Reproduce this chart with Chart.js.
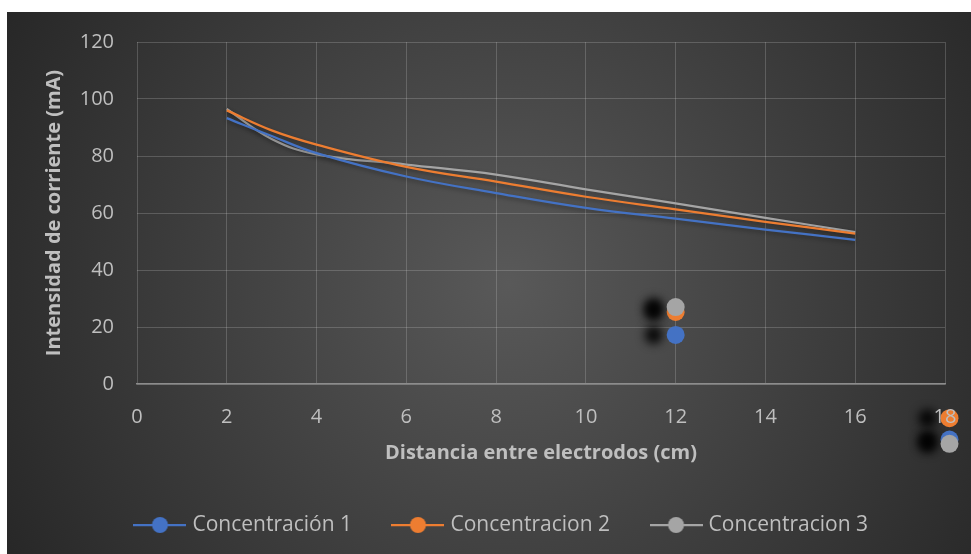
<!DOCTYPE html>
<html lang="es">
<head>
<meta charset="UTF-8">
<title>Intensidad de corriente vs distancia</title>
<script src="https://cdn.jsdelivr.net/npm/chart.js"></script>
<style>
    body { margin: 0; background: #ffffff; }
    .grafico { position: absolute; left: 7px; top: 12px; }
</style>
</head>
<body>
<canvas id="grafico" class="grafico" width="964" height="542"></canvas>

<script>
// Datos
const distancias = [2, 3, 4, 6, 8, 10, 12, 14, 16];
const conc1 = [93.3, 87, 81, 72.8, 67, 61.8, 58, 54.2, 50.6];
const conc2 = [96, 89, 84, 76.2, 71, 65.7, 61.3, 56.9, 52.8];
const conc3 = [96.5, 86, 80.6, 77, 73.5, 68.3, 63.4, 58.3, 53.3];

// puntos sueltos (marcadores)
const marcasX = [12, 18.1];
const marcas1 = [17.2, -19.5];
const marcas2 = [25.3, -12];
const marcas3 = [27, -21];

const nombres = ['Concentración 1', 'Concentracion 2', 'Concentracion 3'];
const colores = ['#4472c4', '#ed7d31', '#a5a5a5'];

const ticksX = [0, 2, 4, 6, 8, 10, 12, 14, 16, 18];
const ticksY = [0, 20, 40, 60, 80, 100, 120];

const texto = '#bfbfbf';
const rejilla = 'rgba(217,217,217,0.22)';

function puntos(xs, ys) {
    return xs.map((x, i) => ({ x: x, y: ys[i] }));
}

// icono de leyenda: linea con circulo
function icono(color) {
    const c = document.createElement('canvas');
    c.width = 53;
    c.height = 18;
    const g = c.getContext('2d');
    g.strokeStyle = color;
    g.lineWidth = 2.25;
    g.beginPath();
    g.moveTo(0, 9);
    g.lineTo(53, 9);
    g.stroke();
    g.fillStyle = color;
    g.beginPath();
    g.arc(26.5, 9, 8, 0, Math.PI * 2);
    g.fill();
    return c;
}
const iconos = colores.map(icono);

function serieMarcas(ys, i) {
    return {
        label: nombres[i] + ' (punto)',
        data: puntos(marcasX, ys),
        showLine: false,
        pointRadius: 9,
        pointHoverRadius: 9,
        pointBackgroundColor: colores[i],
        pointBorderWidth: 0,
        clip: false,
        marca: true
    };
}

function serieLinea(ys, i) {
    return {
        label: nombres[i],
        data: puntos(distancias, ys),
        showLine: true,
        borderColor: colores[i],
        borderWidth: 2.25,
        tension: 0.4,
        pointRadius: 0,
        marca: false
    };
}

// fondo degradado
const fondo = {
    id: 'fondo',
    beforeDraw(chart) {
        const ctx = chart.ctx;
        const w = chart.width, h = chart.height;
        const grad = ctx.createRadialGradient(w * 0.52, h * 0.5, 0, w * 0.52, h * 0.5, w * 0.62);
        grad.addColorStop(0, '#595959');
        grad.addColorStop(1, '#252525');
        ctx.save();
        ctx.fillStyle = grad;
        ctx.fillRect(0, 0, w, h);
        ctx.restore();
    }
};

// sombras de lineas y marcadores; los marcadores se dibujan tambien fuera del area
const sombras = {
    id: 'sombras',
    beforeDatasetDraw(chart, args) {
        const ds = chart.data.datasets[args.index];
        const ctx = chart.ctx;
        ctx.save();
        if (ds.marca) {
            chart._areaReal = chart.chartArea;
            chart.chartArea = { left: 0, top: 0, right: chart.width, bottom: chart.height, width: chart.width, height: chart.height };
            ctx.shadowColor = 'rgba(0,0,0,0.9)';
            ctx.shadowBlur = 10;
            ctx.shadowOffsetX = -22;
        } else {
            ctx.shadowColor = 'rgba(0,0,0,0.35)';
            ctx.shadowBlur = 4;
            ctx.shadowOffsetY = 2;
        }
    },
    afterDatasetDraw(chart) {
        if (chart._areaReal) {
            chart.chartArea = chart._areaReal;
            chart._areaReal = null;
        }
        chart.ctx.restore();
    }
};

// colocar la leyenda como en el original
const leyendaPos = {
    id: 'leyendaPos',
    afterLayout(chart) {
        const lg = chart.legend;
        lg.left += 27;
        lg.right += 27;
        lg.top -= 8.5;
        lg.bottom -= 8.5;
    }
};

new Chart(document.getElementById('grafico'), {
    type: 'scatter',
    data: {
        datasets: [
            serieMarcas(marcas3, 2),
            serieMarcas(marcas2, 1),
            serieMarcas(marcas1, 0),
            serieLinea(conc1, 0),
            serieLinea(conc2, 1),
            serieLinea(conc3, 2)
        ]
    },
    options: {
        responsive: false,
        animation: false,
        layout: { padding: { left: 0, right: 26, top: 30, bottom: 0 } },
        plugins: {
            tooltip: { enabled: false },
            legend: {
                position: 'bottom',
                labels: {
                    usePointStyle: true,
                    pointStyleWidth: 44,
                    padding: 44,
                    color: texto,
                    font: { family: 'Open Sans', size: 21 },
                    generateLabels: chart => nombres.map((n, i) => ({
                        text: n,
                        pointStyle: iconos[i],
                        fontColor: texto,
                        fillStyle: 'transparent',
                        strokeStyle: 'transparent',
                        lineWidth: 0,
                        hidden: false,
                        datasetIndex: i + 3
                    }))
                },
                onClick: () => {}
            }
        },
        scales: {
            x: {
                type: 'linear',
                min: 0,
                max: 18,
                afterBuildTicks: axis => { axis.ticks = ticksX.map(v => ({ value: v })); },
                afterFit: axis => {
                    axis.height = 95;
                    axis.paddingLeft = 0;
                    axis.paddingRight = 0;
                },
                grid: { color: rejilla, drawTicks: false },
                border: { color: '#8c8c8c', width: 1.5 },
                ticks: { color: texto, padding: 21, z: 1, font: { family: 'Open Sans', size: 20 } },
                title: {
                    display: true,
                    text: 'Distancia entre electrodos (cm)',
                    color: texto,
                    font: { family: 'Open Sans', size: 20, weight: 'bold' },
                    padding: { top: 4, bottom: 14 }
                }
            },
            y: {
                min: 0,
                max: 120,
                afterBuildTicks: axis => { axis.ticks = ticksY.map(v => ({ value: v })); },
                afterFit: axis => {
                    axis.width = 130;
                    axis.paddingTop = 0;
                    axis.paddingBottom = 0;
                },
                grid: { color: rejilla, drawTicks: false },
                border: { display: false },
                ticks: { color: texto, padding: 23, font: { family: 'Open Sans', size: 20 } },
                title: {
                    display: true,
                    text: 'Intensidad de corriente (mA)',
                    color: texto,
                    font: { family: 'Open Sans', size: 20, weight: 'bold' },
                    padding: { top: 35, bottom: 0 }
                }
            }
        }
    },
    plugins: [fondo, sombras, leyendaPos]
});
</script>
</body>
</html>
